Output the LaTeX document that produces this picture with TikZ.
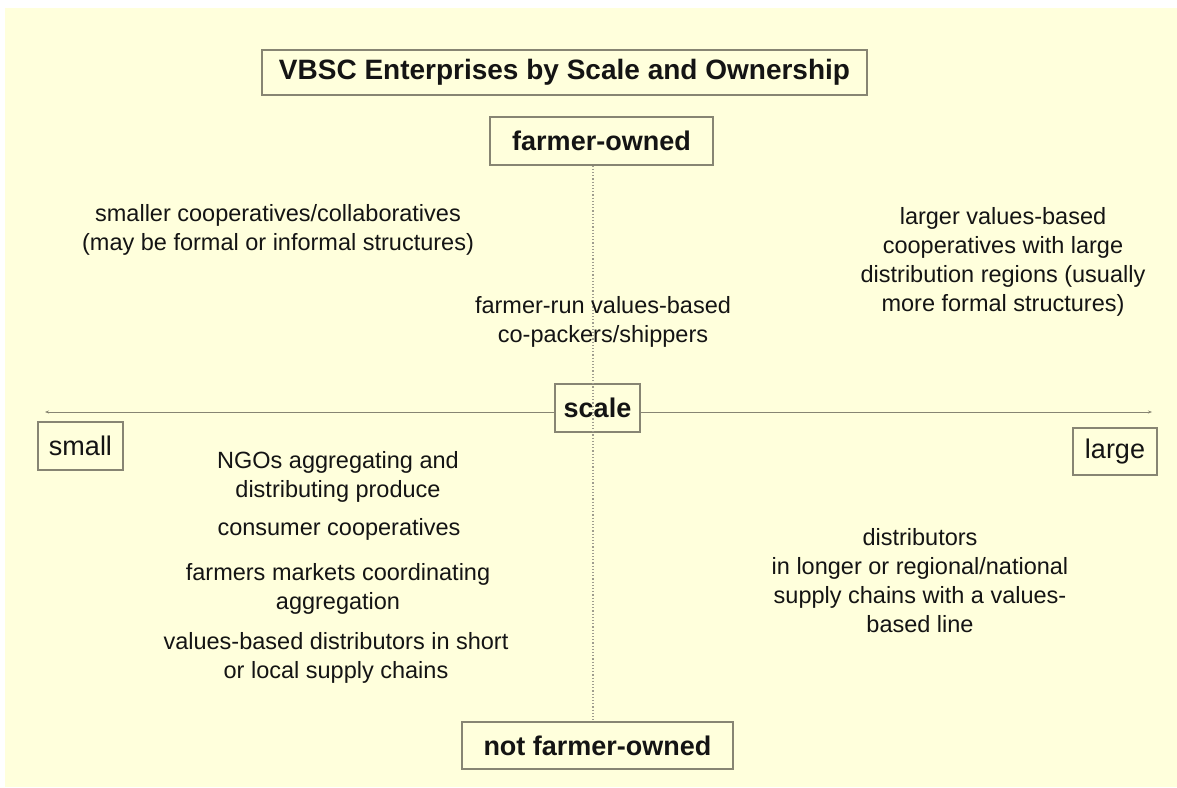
\documentclass[tikz,border=0pt]{standalone}
\usepackage{fontspec}
\setmainfont{Liberation Sans}
\usetikzlibrary{arrows.meta}
\definecolor{bgyellow}{RGB}{255,255,220}
\definecolor{boxline}{RGB}{135,133,115}
\definecolor{txt}{RGB}{20,20,20}
\begin{document}
\begin{tikzpicture}[x=1pt,y=-1pt,
  lbox/.style={draw=boxline,line width=1.3pt,inner sep=0pt,text=txt,font=\fontsize{27}{32}\selectfont\bfseries},
  sbox/.style={draw=boxline,line width=1.3pt,inner sep=0pt,text=txt,font=\fontsize{27}{32}\selectfont},
  body/.style={align=center,text=txt,inner sep=0pt,font=\fontsize{23.5}{29}\selectfont},
  axis/.style={draw=boxline,line width=0.9pt},
  vaxis/.style={draw=boxline!80,line width=1.2pt,dotted}]
\useasboundingbox (0,0) rectangle (1177,787);
\fill[white] (0,0) rectangle (1177,787);
\fill[bgyellow] (5,8) rectangle (1177,787);

\node[lbox,minimum width=605pt,minimum height=45pt,font=\fontsize{28}{32}\selectfont\bfseries] (title) at (564.5,72.5) {VBSC Enterprises by Scale and Ownership};
\node[lbox,minimum width=223pt,minimum height=48pt] (fo) at (601.5,141) {farmer-owned};
\node[lbox,minimum width=85pt,minimum height=48pt] (scale) at (597.5,408) {scale};
\node[sbox,minimum width=85pt,minimum height=48pt] (small) at (80.5,446) {small};
\node[sbox,minimum width=84pt,minimum height=47pt] (large) at (1115,451.5) {large};
\node[lbox,minimum width=271pt,minimum height=47pt] (nfo) at (597.5,745.5) {not farmer-owned};

\coordinate (L) at (45,412);
\coordinate (R) at (1152,412);
\draw[axis,-{Stealth[length=4pt,width=3pt]}] (L -| scale.west) -- (L);
\draw[axis,-{Stealth[length=4pt,width=3pt]}] (R -| scale.east) -- (R);
\draw[vaxis] ([xshift=-8.5pt]fo.south) -- ([xshift=-8.5pt]fo.south |- nfo.north);

\node[body] (t1) at (278,230) {smaller cooperatives/collaboratives\\(may be formal or informal structures)};
\node[body] (t2) at (1003,262) {larger values-based\\cooperatives with large\\distribution regions (usually\\more formal structures)};
\node[body] (t3) at (603,322) {farmer-run values-based\\co-packers/shippers};
\node[body] (t4) at (338,477) {NGOs aggregating and\\distributing produce};
\node[body] (t5) at (339,529) {consumer cooperatives};
\node[body] (t6) at (338,589) {farmers markets coordinating\\aggregation};
\node[body] (t7) at (336,658) {values-based distributors in short\\or local supply chains};
\node[body] (t8) at (920,581) {distributors\\in longer or regional/national\\supply chains with a values-\\based line};
\end{tikzpicture}
\end{document}
